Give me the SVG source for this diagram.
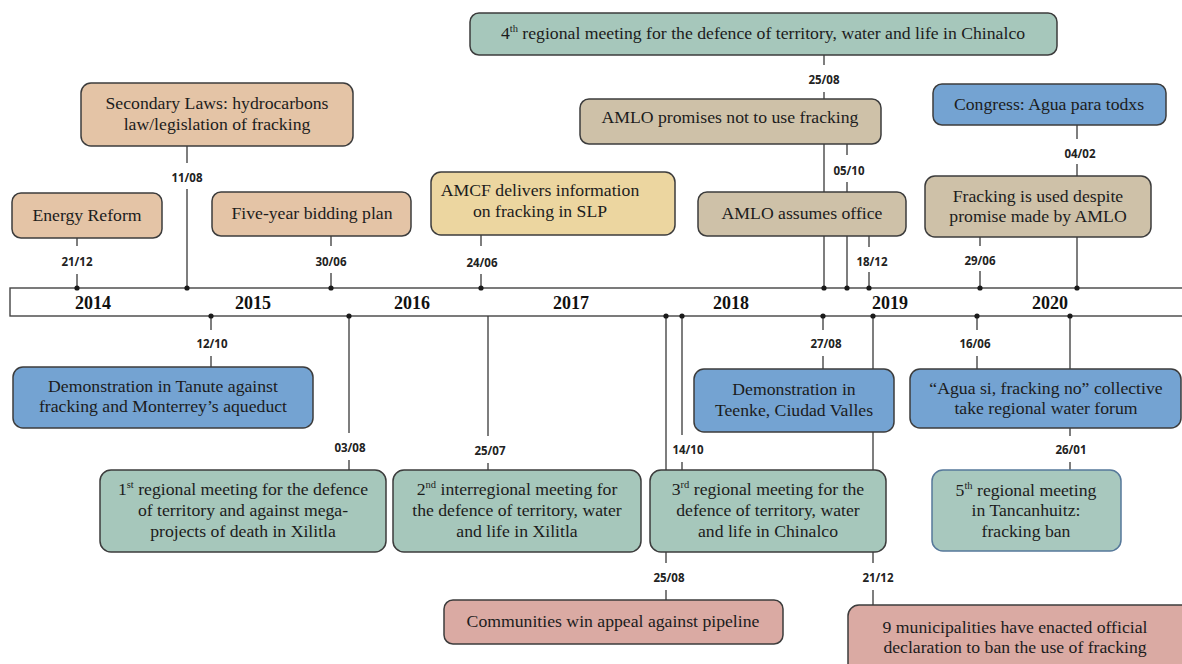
<svg xmlns="http://www.w3.org/2000/svg" width="1182" height="664" viewBox="0 0 1182 664">
<style>
.box{stroke:#3c3c3c;stroke-width:1.5}
.peach{fill:#e4c4a6}
.yellow{fill:#ecd6a0}
.tan{fill:#cec1a8}
.teal{fill:#a6c7bb}
.teal2{fill:#a8c8be;stroke:#56789a}
.blue{fill:#74a3d2}
.pink{fill:#daaaa3}
.t{font-family:"Liberation Serif","Times New Roman",serif;font-size:17.7px;fill:#1c1c1c;text-anchor:middle;dominant-baseline:central}
.sup{font-size:10.5px}
.d{font-family:"Open Sans","Liberation Sans",sans-serif;font-weight:bold;font-size:11.5px;fill:#222;text-anchor:middle;dominant-baseline:central}
.yr{font-family:"Liberation Serif","Times New Roman",serif;font-weight:bold;font-size:18px;fill:#111;text-anchor:middle;dominant-baseline:central}
.ln{stroke:#3a3a3a;stroke-width:1.3;fill:none}
.dot{fill:#1a1a1a}
</style>
<rect width="1182" height="664" fill="#ffffff"/>
<g id="timeline">
<rect x="10" y="288" width="1180" height="28" fill="#ffffff" stroke="#444" stroke-width="1.4"/>
<text class="yr" x="93" y="303">2014</text>
<text class="yr" x="253" y="303">2015</text>
<text class="yr" x="412" y="303">2016</text>
<text class="yr" x="571" y="303">2017</text>
<text class="yr" x="731" y="303">2018</text>
<text class="yr" x="890" y="303">2019</text>
<text class="yr" x="1050" y="303">2020</text>
</g>
<g id="connectors">
<path class="ln" d="M77 238V246M77 274V288"/>
<path class="ln" d="M187 146V163M187 189V288"/>
<path class="ln" d="M331 236V246M331 273V288"/>
<path class="ln" d="M481 235V246M481 274V288"/>
<path class="ln" d="M824 55V65M824 92V100M824 144V288"/>
<path class="ln" d="M847 144V155M847 182V288"/>
<path class="ln" d="M869 236V247M869 272V288"/>
<path class="ln" d="M980 237V246M980 271V288"/>
<path class="ln" d="M1077 125V139M1077 164V176M1077 237V288"/>
<path class="ln" d="M211 316V330M211 356V367"/>
<path class="ln" d="M349 316V433M349 460V470"/>
<path class="ln" d="M488 316V436M488 463V470"/>
<path class="ln" d="M666 316V563M666 590V600"/>
<path class="ln" d="M682 316V435M682 462V470"/>
<path class="ln" d="M823 316V330M823 356V369"/>
<path class="ln" d="M873 316V563M873 590V605"/>
<path class="ln" d="M977 316V330M977 356V369"/>
<path class="ln" d="M1070 316V436M1070 462V470"/>
<g>
<circle class="dot" cx="77" cy="288" r="2.6"/>
<circle class="dot" cx="187" cy="288" r="2.6"/>
<circle class="dot" cx="331" cy="288" r="2.6"/>
<circle class="dot" cx="481" cy="288" r="2.6"/>
<circle class="dot" cx="824" cy="288" r="2.6"/>
<circle class="dot" cx="847" cy="288" r="2.6"/>
<circle class="dot" cx="869" cy="288" r="2.6"/>
<circle class="dot" cx="980" cy="288" r="2.6"/>
<circle class="dot" cx="1077" cy="288" r="2.6"/>
<circle class="dot" cx="211" cy="316" r="2.6"/>
<circle class="dot" cx="349" cy="316" r="2.6"/>
<circle class="dot" cx="666" cy="316" r="2.6"/>
<circle class="dot" cx="682" cy="316" r="2.6"/>
<circle class="dot" cx="823" cy="316" r="2.6"/>
<circle class="dot" cx="873" cy="316" r="2.6"/>
<circle class="dot" cx="977" cy="316" r="2.6"/>
<circle class="dot" cx="1070" cy="316" r="2.6"/>
</g>
<g>
<text class="d" x="77" y="261">21/12</text>
<text class="d" x="187" y="177">11/08</text>
<text class="d" x="331" y="261">30/06</text>
<text class="d" x="482" y="262">24/06</text>
<text class="d" x="824" y="79">25/08</text>
<text class="d" x="849" y="170">05/10</text>
<text class="d" x="872" y="261">18/12</text>
<text class="d" x="980" y="260">29/06</text>
<text class="d" x="1080" y="153">04/02</text>
<text class="d" x="212" y="343">12/10</text>
<text class="d" x="350" y="447">03/08</text>
<text class="d" x="490" y="450">25/07</text>
<text class="d" x="669" y="577">25/08</text>
<text class="d" x="688" y="449">14/10</text>
<text class="d" x="826" y="343">27/08</text>
<text class="d" x="878" y="577">21/12</text>
<text class="d" x="975" y="343">16/06</text>
<text class="d" x="1071" y="449">26/01</text>
</g>
</g>
<g id="energy-reform">
<rect class="box peach" x="12" y="193" width="150" height="45" rx="9"/>
<text class="t" x="87" y="215">Energy Reform</text>
</g>
<g id="secondary-laws">
<rect class="box peach" x="81" y="83" width="272" height="63" rx="10"/>
<text class="t" x="217" y="103">Secondary Laws: hydrocarbons</text>
<text class="t" x="217" y="124">law/legislation of fracking</text>
</g>
<g id="five-year">
<rect class="box peach" x="212" y="192" width="199" height="44" rx="9"/>
<text class="t" x="312" y="213">Five-year bidding plan</text>
</g>
<g id="amcf">
<rect class="box yellow" x="431" y="172" width="244" height="63" rx="10"/>
<text class="t" x="540" y="190">AMCF delivers information</text>
<text class="t" x="540" y="211">on fracking in SLP</text>
</g>
<g id="fourth-meeting">
<rect class="box teal" x="470" y="13" width="587" height="42" rx="9"/>
<text class="t" x="763" y="33">4<tspan class="sup" dy="-5">th</tspan><tspan dy="5"> regional meeting for the defence of territory, water and life in Chinalco</tspan></text>
</g>
<g id="amlo-promises">
<rect class="box tan" x="580" y="99" width="301" height="45" rx="9"/>
<text class="t" x="730" y="117">AMLO promises not to use fracking</text>
</g>
<g id="amlo-office">
<rect class="box tan" x="698" y="192" width="208" height="44" rx="9"/>
<text class="t" x="802" y="213">AMLO assumes office</text>
</g>
<g id="congress">
<rect class="box blue" x="933" y="84" width="233" height="41" rx="9"/>
<text class="t" x="1049" y="104">Congress: Agua para todxs</text>
</g>
<g id="fracking-used">
<rect class="box tan" x="925" y="176" width="226" height="61" rx="10"/>
<text class="t" x="1038" y="196">Fracking is used despite</text>
<text class="t" x="1038" y="216">promise made by AMLO</text>
</g>
<g id="tanute">
<rect class="box blue" x="13" y="367" width="300" height="61" rx="10"/>
<text class="t" x="163" y="386">Demonstration in Tanute against</text>
<text class="t" x="163" y="406">fracking and Monterrey’s aqueduct</text>
</g>
<g id="first-meeting">
<rect class="box teal" x="100" y="470" width="286" height="82" rx="11"/>
<text class="t" x="243" y="489">1<tspan class="sup" dy="-5">st</tspan><tspan dy="5"> regional meeting for the defence</tspan></text>
<text class="t" x="243" y="510">of territory and against mega-</text>
<text class="t" x="243" y="531">projects of death in Xilitla</text>
</g>
<g id="second-meeting">
<rect class="box teal" x="393" y="470" width="248" height="82" rx="11"/>
<text class="t" x="517" y="489">2<tspan class="sup" dy="-5">nd</tspan><tspan dy="5"> interregional meeting for</tspan></text>
<text class="t" x="517" y="510">the defence of territory, water</text>
<text class="t" x="517" y="531">and life in Xilitla</text>
</g>
<g id="communities">
<rect class="box pink" x="444" y="600" width="339" height="44" rx="9"/>
<text class="t" x="613" y="621">Communities win appeal against pipeline</text>
</g>
<g id="teenke">
<rect class="box blue" x="694" y="369" width="200" height="63" rx="10"/>
<text class="t" x="794" y="389">Demonstration in</text>
<text class="t" x="794" y="410">Teenke, Ciudad Valles</text>
</g>
<g id="third-meeting">
<rect class="box teal" x="650" y="470" width="236" height="82" rx="11"/>
<text class="t" x="768" y="489">3<tspan class="sup" dy="-5">rd</tspan><tspan dy="5"> regional meeting for the</tspan></text>
<text class="t" x="768" y="510">defence of territory, water</text>
<text class="t" x="768" y="531">and life in Chinalco</text>
</g>
<g id="agua-si">
<rect class="box blue" x="910" y="369" width="271" height="59" rx="10"/>
<text class="t" x="1046" y="388">“Agua si, fracking no” collective</text>
<text class="t" x="1046" y="408">take regional water forum</text>
</g>
<g id="fifth-meeting">
<rect class="box teal2" x="932" y="470" width="189" height="81" rx="11"/>
<text class="t" x="1026" y="490">5<tspan class="sup" dy="-5">th</tspan><tspan dy="5"> regional meeting</tspan></text>
<text class="t" x="1026" y="510">in Tancanhuitz:</text>
<text class="t" x="1026" y="531">fracking ban</text>
</g>
<g id="municipalities">
<rect class="box pink" x="848" y="605" width="345" height="70" rx="11"/>
<text class="t" x="1015" y="627">9 municipalities have enacted official</text>
<text class="t" x="1015" y="647">declaration to ban the use of fracking</text>
</g>
</svg>
